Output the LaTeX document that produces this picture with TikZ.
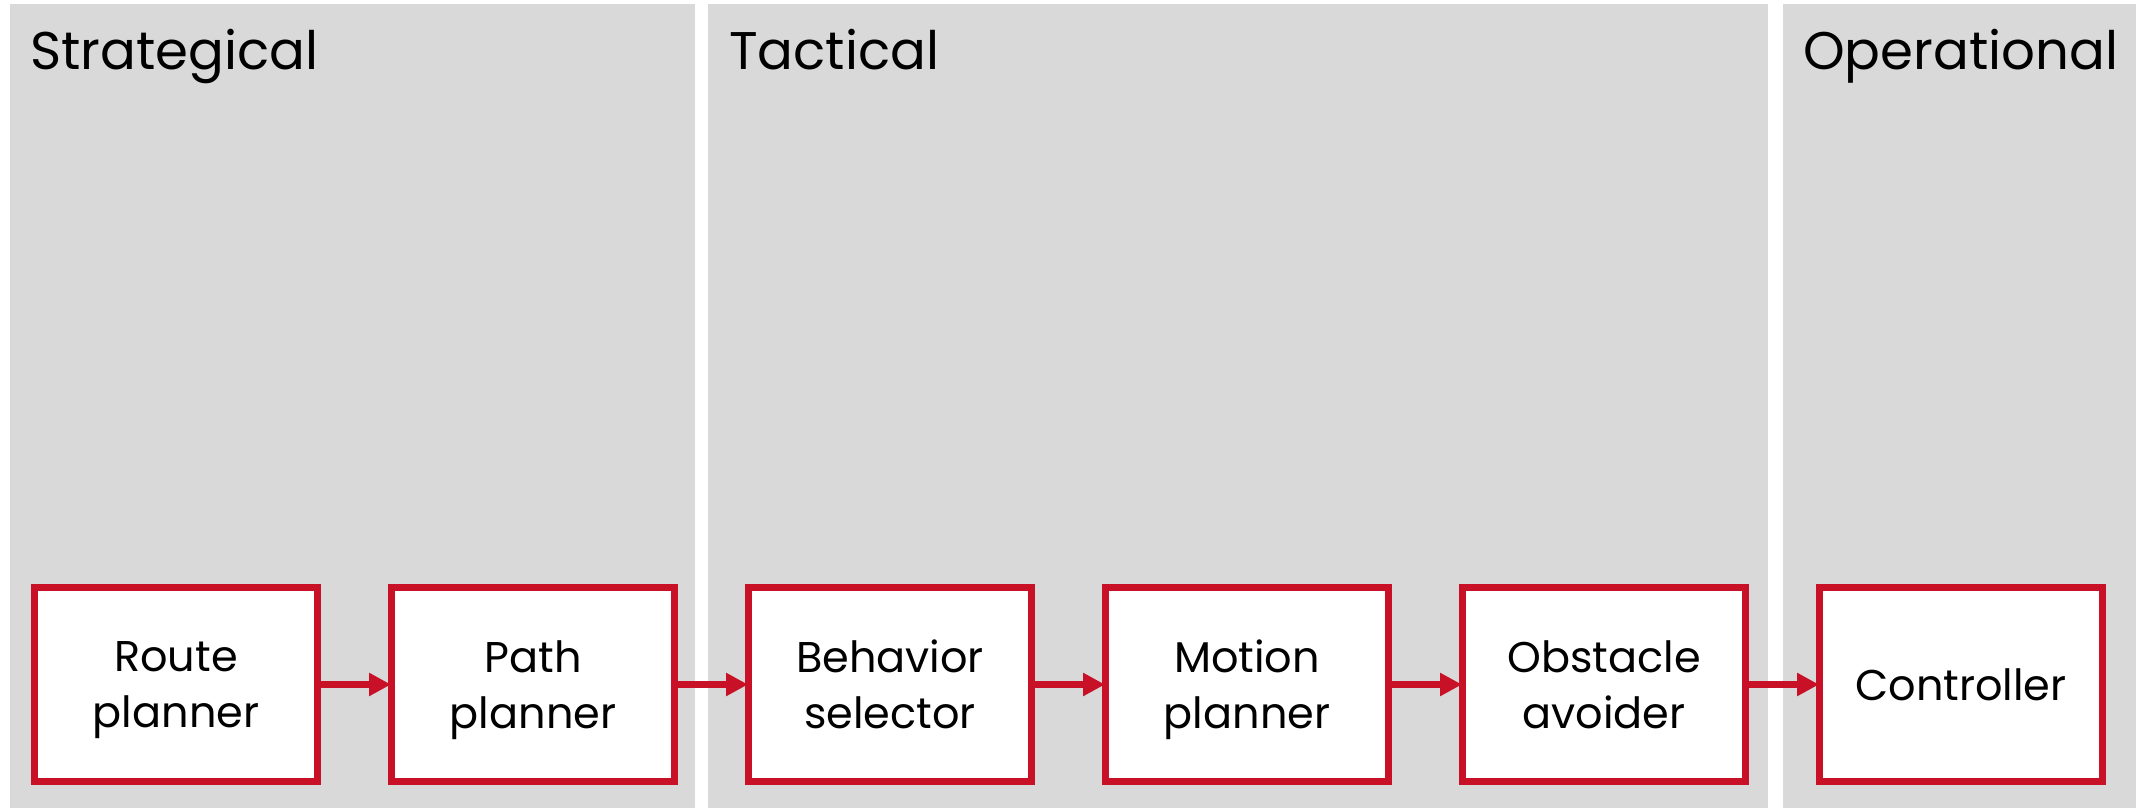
\documentclass[tikz,border=0pt]{standalone}
\usepackage{fontspec}
\setmainfont{Poppins}
\usetikzlibrary{arrows.meta}
\definecolor{panelgray}{RGB}{217,217,217}
\definecolor{blockred}{RGB}{200,17,38}
\begin{document}
\begin{tikzpicture}[x=1pt,y=-1pt,
  panel/.style={fill=panelgray,draw=none},
  layertitle/.style={anchor=base west,inner sep=0pt,font=\fontsize{53}{60}\selectfont},
  block/.style={draw=blockred,line width=7pt,fill=white,minimum width=283pt,minimum height=194pt,
    align=center,inner sep=0pt,text depth=0pt,font=\fontsize{43}{56}\selectfont},
  flow/.style={draw=blockred,line width=7pt,-{Triangle[length=22pt,width=22pt]},shorten >=-3pt}]
\useasboundingbox (0,0) rectangle (2136,810);
\fill[white] (0,0) rectangle (2136,810);
% layer panels
\path[panel] (9.5,4) rectangle (695,808);
\path[panel] (708,4) rectangle (1768,808);
\path[panel] (1783,4) rectangle (2136,808);
% layer titles
\node[layertitle] (tstrat) at (30,70) {Strategical};
\node[layertitle] (ttact) at (729,70) {Tactical};
\node[layertitle] (toper) at (1803,70) {Operational};
% processing blocks
\node[block] (route) at (176,684.5) {Route\\planner};
\node[block] (path) at (533,684.5) {Path\\planner};
\node[block] (behav) at (890,684.5) {Behavior\\selector};
\node[block] (motion) at (1247,684.5) {Motion\\planner};
\node[block] (obst) at (1604,684.5) {Obstacle\\avoider};
\node[block] (ctrl) at (1961,684.5) {Controller};
% data flow
\draw[flow] (route) -- (path);
\draw[flow] (path) -- (behav);
\draw[flow] (behav) -- (motion);
\draw[flow] (motion) -- (obst);
\draw[flow] (obst) -- (ctrl);
\end{tikzpicture}
\end{document}
